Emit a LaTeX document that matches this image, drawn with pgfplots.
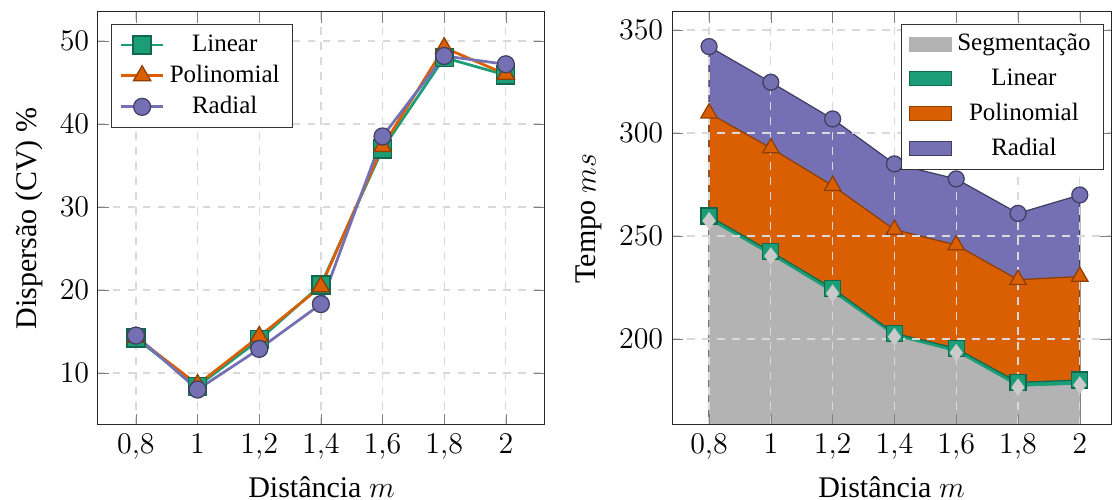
\documentclass[border=0pt]{standalone}
\usepackage{fontspec}
\setmainfont{Liberation Serif}
\usepackage{pgfplots}
\pgfplotsset{compat=1.18}
\definecolor{cgreen}{HTML}{1B9E77}
\definecolor{corange}{HTML}{D95F02}
\definecolor{cpurple}{HTML}{7570B3}
\definecolor{cgray}{HTML}{B3B3B3}
\definecolor{cdiam}{HTML}{CACACA}

\pgfplotsset{
  common/.style={
    scale only axis, height=165.2pt, anchor=south west,
    xtick={0.8,1,1.2,1.4,1.6,1.8,2},
    /pgf/number format/use comma,
    tick label style={font=\fontsize{12}{14}\selectfont},
    label style={font=\fontsize{12}{14}\selectfont},
    legend style={font=\fontsize{10}{12}\selectfont, draw=black!80, legend cell align=center},
    grid=major,
    major grid style={dashed, gray!30, line width=0.5pt},
    axis line style={black!85},
    xlabel={Distância $m$},
  }
}

\begin{document}
\begin{tikzpicture}
\useasboundingbox (-39.2pt,-30pt) rectangle (406pt,170pt);
\begin{axis}[common,
  at={(0pt,0pt)}, width=178.8pt,
  xmin=0.677, xmax=2.127, ymin=3.73, ymax=53.5,
  ytick={10,20,30,40,50},
  ylabel={Dispersão (CV) $\%$},
  legend style={at={(0.03,0.97)}, anchor=north west},
]
\addplot[cgreen, line width=1.1pt, mark=square*, mark size=3.6pt,
  mark options={fill=cgreen, draw=cgreen!65!black, line width=0.5pt}]
  coordinates {(0.8,14.2) (1,8.4) (1.2,14.0) (1.4,20.6) (1.6,37.0) (1.8,48.0) (2,45.9)};
\addlegendentry{Linear}
\addplot[corange, line width=1.1pt, mark=triangle*, mark size=4pt,
  mark options={fill=corange, draw=corange!65!black, line width=0.5pt}]
  coordinates {(0.8,14.3) (1,8.6) (1.2,14.4) (1.4,20.4) (1.6,37.3) (1.8,49.2) (2,46.0)};
\addlegendentry{Polinomial}
\addplot[cpurple, line width=1.1pt, mark=*, mark size=3.4pt,
  mark options={fill=cpurple, draw=cpurple!55!black, line width=0.5pt}]
  coordinates {(0.8,14.5) (1,8.0) (1.2,12.9) (1.4,18.3) (1.6,38.5) (1.8,48.2) (2,47.2)};
\addlegendentry{Radial}
\end{axis}

\begin{axis}[common,
  at={(229.6pt,0pt)}, width=175.6pt,
  xmin=0.68, xmax=2.101, ymin=158.3, ymax=358.7,
  ytick={200,250,300,350},
  ylabel={Tempo $ms$},
  axis on top,
  legend style={at={(0.983,0.972)}, anchor=north east,
    /tikz/every even column/.append style={column sep=0pt}, row sep=1.6pt},
]
% areas
\addplot[fill=cpurple, draw=cpurple!55!black, line width=0.5pt, forget plot]
  coordinates {(0.8,341.9) (1,324.6) (1.2,306.8) (1.4,285.0) (1.6,277.7) (1.8,261.0) (2,269.9)} \closedcycle;
\addplot[fill=corange, draw=corange!65!black, line width=0.5pt, forget plot]
  coordinates {(0.8,309.6) (1,292.7) (1.2,274.4) (1.4,253.1) (1.6,245.6) (1.8,228.8) (2,230.3)} \closedcycle;
\addplot[fill=cgreen, draw=cgreen!65!black, line width=0.5pt, forget plot]
  coordinates {(0.8,259.7) (1,242.4) (1.2,224.6) (1.4,202.8) (1.6,195.5) (1.8,179.0) (2,180.1)} \closedcycle;
\addplot[fill=cgray, draw=cgray, line width=0.3pt, forget plot]
  coordinates {(0.8,257.4) (1,240.3) (1.2,222.2) (1.4,201.1) (1.6,193.4) (1.8,176.6) (2,177.7)} \closedcycle;
% markers
\addplot[only marks, mark=*, mark size=3.2pt, forget plot,
  mark options={fill=cpurple, draw=cpurple!55!black, line width=0.5pt}]
  coordinates {(0.8,341.9) (1,324.6) (1.2,306.8) (1.4,285.0) (1.6,277.7) (1.8,261.0) (2,269.9)};
\addplot[only marks, mark=triangle*, mark size=3.8pt, forget plot,
  mark options={fill=corange, draw=corange!65!black, line width=0.5pt}]
  coordinates {(0.8,309.6) (1,292.7) (1.2,274.4) (1.4,253.1) (1.6,245.6) (1.8,228.8) (2,230.3)};
\addplot[only marks, mark=square*, mark size=3.2pt, forget plot,
  mark options={fill=cgreen, draw=cgreen!65!black, line width=0.5pt}]
  coordinates {(0.8,259.7) (1,242.4) (1.2,224.6) (1.4,202.8) (1.6,195.5) (1.8,179.0) (2,180.1)};
\addplot[only marks, mark=diamond*, mark size=3.2pt, forget plot,
  mark options={fill=cdiam, draw=cdiam}]
  coordinates {(0.8,257.4) (1,240.3) (1.2,222.2) (1.4,201.1) (1.6,193.4) (1.8,176.6) (2,177.7)};
% legend
\addlegendimage{area legend, fill=cgray, draw=cgray}
\addlegendentry{Segmentação}
\addlegendimage{area legend, fill=cgreen, draw=cgreen!65!black}
\addlegendentry{Linear}
\addlegendimage{area legend, fill=corange, draw=corange!65!black}
\addlegendentry{Polinomial}
\addlegendimage{area legend, fill=cpurple, draw=cpurple!55!black}
\addlegendentry{Radial}
\end{axis}
\end{tikzpicture}
\end{document}
